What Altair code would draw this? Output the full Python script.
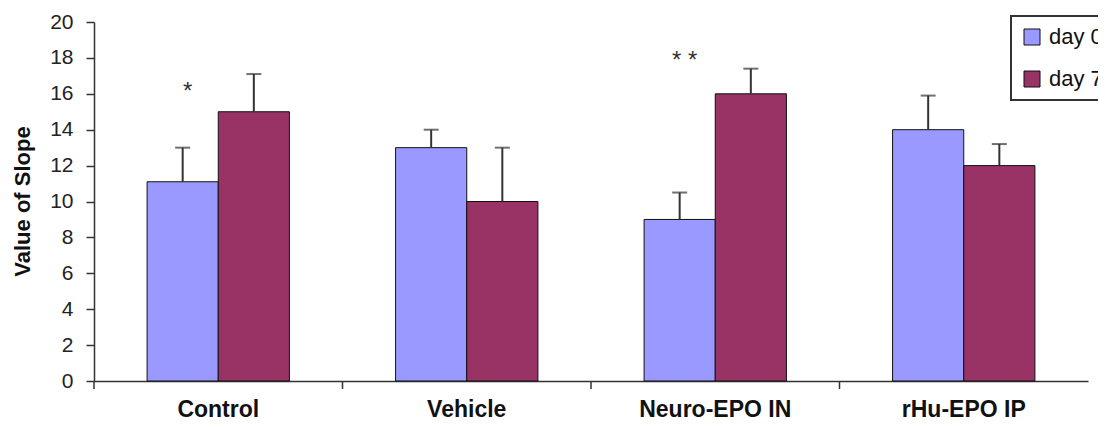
import altair as alt
import pandas as pd

groups = ["Control", "Vehicle", "Neuro-EPO IN", "rHu-EPO IP"]
days = ["day 0", "day 7"]
day0_mean = [11.1, 13.0, 9.0, 14.0]
day0_err = [1.9, 1.0, 1.5, 1.9]
day7_mean = [15.0, 10.0, 16.0, 12.0]
day7_err = [2.1, 3.0, 1.4, 1.2]
sig_group = ["Control", "Neuro-EPO IN"]
sig_text = ["*", "* *"]
sig_y = [16.1, 17.8]
y_ticks = [0, 2, 4, 6, 8, 10, 12, 14, 16, 18, 20]
colors = ["#9999FF", "#993366"]

rows = []
for g, m, e in zip(groups, day0_mean, day0_err):
    rows.append({"group": g, "day": "day 0", "value": m, "top": round(m + e, 2)})
for g, m, e in zip(groups, day7_mean, day7_err):
    rows.append({"group": g, "day": "day 7", "value": m, "top": round(m + e, 2)})
df = pd.DataFrame(rows)
sig_df = pd.DataFrame({"group": sig_group, "day": ["day 0"] * 2, "value": sig_y, "label": sig_text})
tick_df = pd.DataFrame({"group": groups})

FONT = "Liberation Sans"

x_enc = alt.X(
    "group:N", sort=groups,
    scale=alt.Scale(paddingInner=0, paddingOuter=0),
    axis=alt.Axis(title=None, ticks=False, labelFontSize=23, labelFontWeight="bold",
                  labelPadding=17, labelAngle=0, domainColor="#333", domainWidth=1.5,
                  labelColor="#111"),
)
xo_enc = alt.XOffset("day:N", sort=days, scale=alt.Scale(paddingInner=0, paddingOuter=0.746))
y_axis = alt.Axis(title="Value of Slope", values=y_ticks, tickCount=len(y_ticks), grid=False,
                  labelOverlap=False,
                  tickSize=8, tickColor="#333", tickWidth=1.5, domainColor="#333", domainWidth=1.5,
                  labelFontSize=21, labelPadding=13, labelColor="#222",
                  titleFontSize=22, titleFontWeight="bold", titleColor="#111",
                  titleX=-72, titleY=179, titleAngle=270, titleAlign="center",
                  titleBaseline="middle")
y_scale = alt.Scale(domain=[0, 20], nice=False)


def y_of(field):
    return alt.Y(field, scale=y_scale, axis=y_axis, title="Value of Slope")


bars = alt.Chart(df).mark_bar(stroke="#111", strokeWidth=1).encode(
    x=x_enc, xOffset=xo_enc, y=y_of("value:Q"),
    color=alt.Color("day:N", sort=days, scale=alt.Scale(domain=days, range=colors),
                    legend=alt.Legend(title=None, orient="none", legendX=917, legendY=-6,
                                      symbolType="square", symbolSize=256,
                                      symbolStrokeColor="#111", symbolStrokeWidth=1,
                                      labelFontSize=22, labelColor="#111", rowPadding=20,
                                      padding=10, strokeColor="#333", fillColor="white",
                                      labelOffset=6)),
)

err = alt.Chart(df).mark_rule(color="#333", strokeWidth=2).encode(
    x=x_enc, xOffset=xo_enc, y=y_of("value:Q"), y2="top:Q"
)
caps = alt.Chart(df).mark_tick(color="#333", thickness=2, size=15).encode(
    x=x_enc, xOffset=xo_enc, y=y_of("top:Q")
)
sig = alt.Chart(sig_df).mark_text(fontSize=24, color="#333", baseline="middle", dx=5).encode(
    x=x_enc, xOffset=xo_enc, y=y_of("value:Q"), text="label:N"
)
xticks = alt.Chart(tick_df).mark_rule(color="#333", strokeWidth=1.5).encode(
    x=alt.X("group:N", sort=groups, bandPosition=0),
    y=alt.value(359), y2=alt.value(367),
)

chart = alt.layer(bars, err, caps, sig, xticks).properties(
    width=994, height=359,
    autosize=alt.AutoSizeParams(type="none"),
    padding={"left": 86, "top": 14, "right": 10, "bottom": 41},
    background="white",
).configure(font=FONT).configure_view(stroke=None).configure_legend(strokeWidth=2)

chart.save("out.html", embed_options={"renderer": "svg", "actions": False})
